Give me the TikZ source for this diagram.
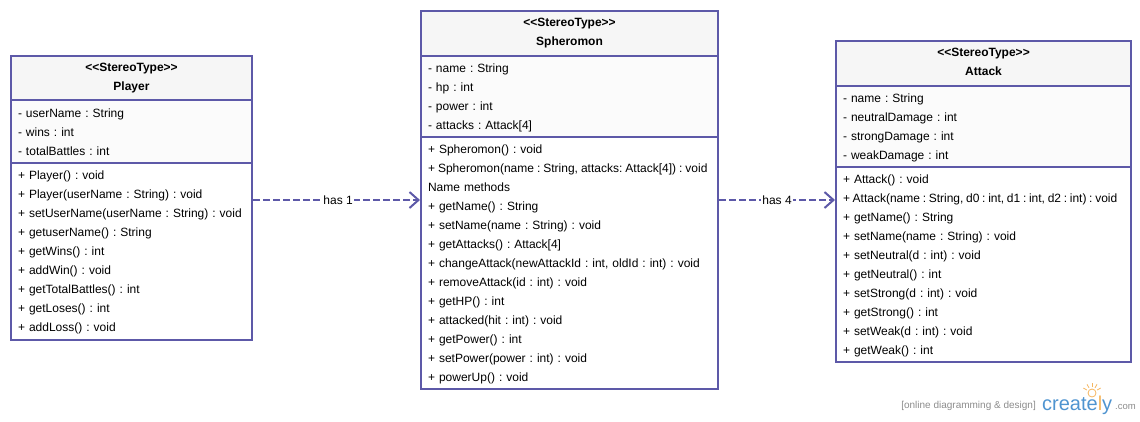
\documentclass[tikz,border=0pt]{standalone}
\usepackage{fontspec}
\setmainfont{Liberation Sans}
\usepackage{xcolor}
\usetikzlibrary{positioning,fit,arrows.meta}
\definecolor{umlline}{HTML}{5D59A8}
\definecolor{umlhead}{HTML}{F6F6F6}
\definecolor{umlattr}{HTML}{FBFBFB}
\definecolor{logoblue}{HTML}{4F94D0}
\definecolor{logoorange}{HTML}{F5B65F}
\definecolor{logogray}{HTML}{8C8C8C}
\newcommand{\umlfont}{\fontsize{12}{19}\selectfont\frenchspacing\spaceskip=2.6pt\relax}
\newcommand{\umllong}[2]{\mbox{\spaceskip=#1\relax #2}}
\tikzset{
  x=1pt,y=-1pt,
  umlpart/.style={draw=umlline,line width=2pt,inner sep=0pt,outer sep=0pt,anchor=north west,align=left,
    font=\umlfont,execute at begin node={\rule{0pt}{11pt}}},
  umlhead/.style={umlpart,fill=umlhead,align=center,font=\bfseries\fontsize{12}{19}\selectfont,
    execute at begin node={\rule{0pt}{13pt}},execute at end node={\rule[-2.6pt]{0pt}{1pt}}},
  umlattr/.style={umlpart,fill=umlattr},
  umlops/.style={umlpart,fill=white},
  umlbox/.style={inner sep=0pt,outer sep=1pt},
  hasline/.style={draw=umlline,line width=2pt,dash pattern=on 7pt off 3pt,
    -{Straight Barb[length=9pt,width=16pt,line width=2pt]}},
  haslabel/.style={fill=white,font=\fontsize{12}{14}\selectfont,inner sep=1.5pt}
}
\begin{document}
\begin{tikzpicture}
  \useasboundingbox (0,0) rectangle (1140,421);

  % Player
  \node[umlhead,minimum width=241pt,minimum height=44pt] (playerhead) at (11,56) {<{}<StereoType>{}>\\Player};
  \node[umlattr,minimum width=241pt,minimum height=63pt,text width=227pt] (playerattr) at (11,100)
    {- userName : String\\- wins : int\\- totalBattles : int};
  \node[umlops,minimum width=241pt,minimum height=177pt,text width=227pt] (playerops) at (11,163)
    {+ Player() : void\\+ Player(userName : String) : void\\+ setUserName(userName : String) : void\\
     + getuserName() : String\\+ getWins() : int\\+ addWin() : void\\+ getTotalBattles() : int\\
     + getLoses() : int\\+ addLoss() : void};
  \node[umlbox,fit=(playerhead)(playerattr)(playerops)] (player) {};

  % Spheromon
  \node[umlhead,minimum width=297pt,minimum height=45pt] (spheromonhead) at (421,11) {<{}<StereoType>{}>\\Spheromon};
  \node[umlattr,minimum width=297pt,minimum height=81pt,text width=283pt] (spheromonattr) at (421,56)
    {- name : String\\- hp : int\\- power : int\\- attacks : Attack[4]};
  \node[umlops,minimum width=297pt,minimum height=252pt,text width=283pt] (spheromonops) at (421,137)
    {+ Spheromon() : void\\\umllong{3pt}{+ Spheromon(name : String, attacks: Attack[4]) : void}\\Name methods\\
     + getName() : String\\+ setName(name : String) : void\\+ getAttacks() : Attack[4]\\
     + changeAttack(newAttackId : int, oldId : int) : void\\+ removeAttack(id : int) : void\\
     + getHP() : int\\+ attacked(hit : int) : void\\+ getPower() : int\\+ setPower(power : int) : void\\
     + powerUp() : void};
  \node[umlbox,fit=(spheromonhead)(spheromonattr)(spheromonops)] (spheromon) {};

  % Attack
  \node[umlhead,minimum width=295pt,minimum height=45pt] (attackhead) at (836,41) {<{}<StereoType>{}>\\Attack};
  \node[umlattr,minimum width=295pt,minimum height=81pt,text width=281pt] (attackattr) at (836,86)
    {- name : String\\- neutralDamage : int\\- strongDamage : int\\- weakDamage : int};
  \node[umlops,minimum width=295pt,minimum height=195pt,text width=281pt] (attackops) at (836,167)
    {+ Attack() : void\\\umllong{2.7pt}{+ Attack(name : String, d0 : int, d1 : int, d2 : int) : void}\\+ getName() : String\\
     + setName(name : String) : void\\+ setNeutral(d : int) : void\\+ getNeutral() : int\\
     + setStrong(d : int) : void\\+ getStrong() : int\\+ setWeak(d : int) : void\\+ getWeak() : int};
  \node[umlbox,fit=(attackhead)(attackattr)(attackops)] (attack) {};

  % connectors
  \draw[hasline] (player.east |- spheromon.west) -- node[haslabel,pos=.51] (hasone) {has 1} (spheromon.west);
  \draw[hasline] (spheromon.east) -- node[haslabel] (hasfour) {has 4} (attack.west |- spheromon.east);

  % logo
  \node[text=logogray,font=\fontsize{10}{11}\selectfont,inner sep=0pt,anchor=east] (logotag) at (1036,406) {[online diagramming \& design]};
  \node[text=logoblue,font=\fontsize{20}{24}\selectfont,inner sep=0pt,anchor=west] (logoname) at (1042,405) {create\textcolor{logoorange}{l}y};
  \node[text=logogray,font=\fontsize{9.5}{11}\selectfont,inner sep=0pt,anchor=west] (logocom) at (1115,407) {.com};
  \draw[logoorange,line width=.8pt] (1092,393) circle (4);
  \foreach \ang in {-150,-120,-90,-60,-30}
    \draw[logoorange,line width=.8pt] (1092,393) ++(\ang:6) -- ++(\ang:4);
\end{tikzpicture}
\end{document}
